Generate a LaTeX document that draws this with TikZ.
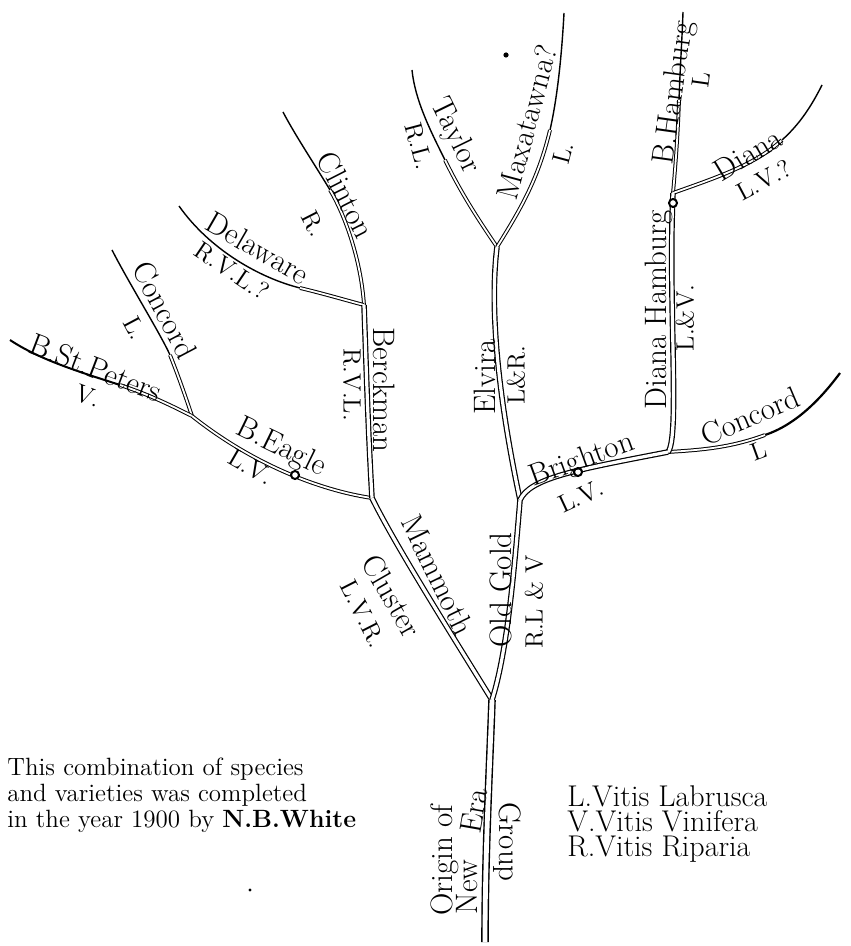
\documentclass[tikz,border=0pt]{standalone}
\tikzset{
  trunk/.style={line width=.7pt, double=white, double distance=2.4pt},
  limb/.style={line width=.6pt, double=white, double distance=1.6pt},
  twig/.style={line width=.5pt, double=white, double distance=.9pt},
  tip/.style={line width=.7pt},
  knot/.style={line width=1pt, fill=white},
  lab/.style={font=\fontsize{15.5}{15.5}\selectfont, inner sep=0pt},
  sub/.style={font=\fontsize{12.5}{12.5}\selectfont, inner sep=0pt},
  note/.style={font=\fontsize{12.5}{13}\selectfont, align=left, inner sep=0pt},
  key/.style={font=\fontsize{15}{12.5}\selectfont, align=left, inner sep=0pt}
}
\begin{document}
\begin{tikzpicture}[x=.5pt, y=-.5pt]
  \useasboundingbox (0,0) rectangle (850,946);
  \coordinate (base) at (485,942); \coordinate (fork) at (492,700);
  \coordinate (eaglefork) at (372,498); \coordinate (brightfork) at (520,500);
  \coordinate (delfork) at (364,305); \coordinate (stpfork) at (192,416);
  \coordinate (taylorfork) at (497,247); \coordinate (hamfork) at (668,452);
  \coordinate (dianafork) at (673,193);
  \coordinate (clintonmid) at (330,190); \coordinate (clintontip) at (283,112);
  \coordinate (delmid) at (300,288); \coordinate (delawaretip) at (179,206);
  \coordinate (concmid) at (170,355); \coordinate (concordtip) at (112,250);
  \coordinate (stpmid) at (120,385); \coordinate (stptip) at (10,340);
  \coordinate (taylmid) at (445,160); \coordinate (taylortip) at (412,70);
  \coordinate (maxmid) at (550,130); \coordinate (maxtip) at (564,13);
  \coordinate (hammid) at (679,100); \coordinate (hamtip) at (683,12);
  \coordinate (dianamid) at (782,140); \coordinate (dianatip) at (822,85);
  \coordinate (concrmid) at (765,435); \coordinate (concordrtip) at (840,373);

  \draw[tip] (clintonmid) .. controls (315,165) and (295,135) .. (clintontip);
  \draw[tip] (delmid) .. controls (260,278) and (210,250) .. (delawaretip);
  \draw[tip] (concmid) .. controls (160,333) and (130,285) .. (concordtip);
  \draw[tip, line width=1pt] (stpmid) .. controls (80,372) and (40,360) .. (stptip);
  \draw[tip] (taylmid) .. controls (430,130) and (415,100) .. (taylortip);
  \draw[tip] (maxmid) .. controls (558,95) and (562,50) .. (maxtip);
  \draw[tip] (hammid) .. controls (680,70) and (682,40) .. (hamtip);
  \draw[tip] (dianamid) .. controls (800,124) and (812,105) .. (dianatip);
  \draw[tip, line width=1.1pt] (concrmid) .. controls (795,425) and (820,400) .. (concordrtip);

  \draw[twig] (delfork) .. controls (361,260) and (345,215) .. (clintonmid);
  \draw[twig] (delfork) .. controls (345,300) and (325,294) .. (delmid);
  \draw[twig] (stpfork) .. controls (185,395) and (178,375) .. (concmid);
  \draw[twig] (stpfork) .. controls (170,405) and (150,395) .. (stpmid);
  \draw[twig] (taylorfork) .. controls (480,222) and (462,195) .. (taylmid);
  \draw[twig] (taylorfork) .. controls (520,210) and (538,180) .. (maxmid);
  \draw[twig] (dianafork) .. controls (676,160) and (678,130) .. (hammid);
  \draw[twig] (dianafork) .. controls (715,178) and (755,165) .. (dianamid);
  \draw[twig] (hamfork) .. controls (700,450) and (730,448) .. (concrmid);
  \draw[twig] (eaglefork) .. controls (330,492) and (260,470) .. (stpfork);

  \draw[limb] (eaglefork) .. controls (368,430) and (366,360) .. (delfork);
  \draw[limb] (brightfork) .. controls (503,420) and (488,320) .. (taylorfork);
  \draw[limb] (hamfork) .. controls (680,438) and (668,300) .. (dianafork);
  \draw[limb] (brightfork) .. controls (530,478) and (575,470) .. (hamfork);
  \draw[limb] (fork) .. controls (455,640) and (395,545) .. (eaglefork);
  \draw[limb] (fork) .. controls (508,650) and (515,560) .. (brightfork);
  \draw[trunk] (base) .. controls (485,850) and (490,760) .. (fork);

  \draw[knot] (295,475) circle (2pt);
  \draw[knot] (578,472) circle (2pt);
  \draw[knot] (673,203) circle (2pt);
  \fill (506,55) circle (1.3pt);
  \fill (250,890) circle (.8pt);

  \node[lab, rotate=90] (origin) at (445,860) {Origin of};
  \node[lab, rotate=90] (new) at (467,887) {New};
  \node[lab, rotate=80] (era) at (474,811) {Era};
  \node[lab, rotate=-90] (group) at (507,842) {Group};
  \node[lab, rotate=90] (oldgold) at (501,590) {Old Gold};
  \node[sub, rotate=90] (oldgoldsp) at (534,602) {R.L \& V};
  \node[lab, rotate=-64] (mammoth) at (438,575) {Mammoth};
  \node[lab, rotate=-60] (cluster) at (392,596) {Cluster};
  \node[sub, rotate=-63] (clustersp) at (363,614) {L.V.R.};
  \node[lab, rotate=-90] (berckman) at (384,390) {Berckman};
  \node[sub, rotate=-90] (berckmansp) at (352,385) {R.V.L.};
  \node[lab, rotate=-63] (clinton) at (346,195) {Clinton};
  \node[sub, rotate=-63] (clintonsp) at (314,224) {R.};
  \node[lab, rotate=-30] (delaware) at (258,248) {Delaware};
  \node[sub, rotate=-34] (delawaresp) at (232,271) {R.V.L.?};
  \node[lab, rotate=-62] (concord) at (165,310) {Concord};
  \node[sub, rotate=-62] (concordsp) at (135,328) {L.};
  \node[lab, rotate=-21] (stpeters) at (96,368) {B.St.Peters};
  \node[sub, rotate=-21] (stpeterssp) at (88,396) {V.};
  \node[lab, rotate=-26] (eagle) at (281,448) {B.Eagle};
  \node[sub, rotate=-30] (eaglesp) at (251,467) {L.V.};
  \node[lab, rotate=90] (elvira) at (485,377) {Elvira};
  \node[sub, rotate=90] (elvirasp) at (516,375) {L\&R.};
  \node[lab, rotate=-64] (taylor) at (455,136) {Taylor};
  \node[sub, rotate=-75] (taylorsp) at (419,146) {R.L.};
  \node[lab, rotate=75] (maxatawna) at (527,122) {Maxatawna?};
  \node[sub, rotate=75] (maxatawnasp) at (563,153) {L.};
  \node[lab, rotate=90] (dianaham) at (659,310) {Diana Hamburg};
  \node[sub, rotate=90] (dianahamsp) at (685,318) {L.\&V.};
  \node[lab, rotate=82] (bhamburg) at (675,93) {B.Hamburg};
  \node[sub, rotate=82] (bhamburgsp) at (701,80) {L};
  \node[lab, rotate=31] (diana) at (748,154) {Diana};
  \node[sub, rotate=28] (dianasp) at (764,180) {L.V.?};
  \node[lab, rotate=20] (brighton) at (582,461) {Brighton};
  \node[sub, rotate=25] (brightonsp) at (581,496) {L.V.};
  \node[lab, rotate=23] (concordr) at (750,416) {Concord};
  \node[sub, rotate=20] (concordrsp) at (759,451) {L};

  \node[note, anchor=north west] (remark) at (7,757)
    {This combination of species\\and varieties was completed\\in the year 1900 by \textbf{N.B.White}};
  \node[key, anchor=north west] (legend) at (567,785)
    {L.Vitis Labrusca\\V.Vitis Vinifera\\R.Vitis Riparia};
\end{tikzpicture}
\end{document}
